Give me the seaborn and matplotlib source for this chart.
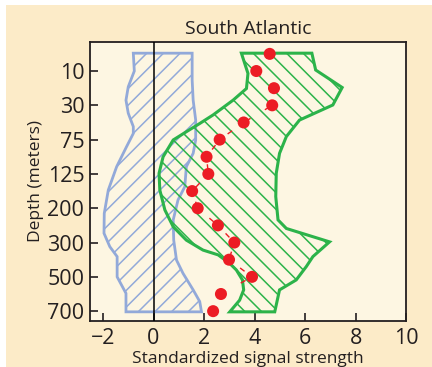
import matplotlib
matplotlib.use("Agg")
import matplotlib.pyplot as plt
from matplotlib.patches import Rectangle
import seaborn as sns
import pandas as pd

# depth levels (categorical rows, top to bottom)
depth_labels = ["10", "30", "75", "125", "200", "300", "500", "700"]

# red dots: row position (half steps) and signal strength
dot_row = [-0.5, 0, 0.5, 1, 1.5, 2, 2.5, 3, 3.5, 4, 4.5, 5, 5.5, 6, 6.5, 7]
dot_signal = [4.6, 4.07, 4.77, 4.70, 3.57, 2.62, 2.1, 2.17, 1.53, 1.75,
              2.55, 3.2, 2.99, 3.90, 2.67, 2.36]

# blue envelope (left and right edges, top to bottom)
blue_row = [-0.52, 0, 0.46, 0.85, 1.23, 1.62, 1.82, 2.21, 2.79, 3.47, 4.15,
            4.73, 5.12, 5.41, 6.0, 6.48, 7.02]
blue_left = [-0.80, -0.76, -1.0, -1.09, -1.0, -0.80, -0.80, -1.07, -1.46,
             -1.79, -1.95, -1.96, -1.73, -1.44, -1.44, -1.09, -1.09]
blue_row_r = [-0.52, 0.26, 0.85, 1.43, 2.01, 2.40, 2.79, 3.37, 3.76, 4.34,
              4.93, 5.51, 5.90, 6.38, 6.72, 7.02]
blue_right = [1.53, 1.53, 1.57, 1.67, 1.67, 1.57, 1.30, 1.24, 0.97, 0.78,
              0.80, 0.91, 1.17, 1.57, 1.83, 1.90]

# green envelope (right edge top to bottom, then left edge bottom to top)
green_row_r = [-0.52, -0.03, 0.48, 0.99, 1.43, 1.91, 2.40, 2.98, 3.66, 4.34,
               4.59, 4.98, 5.41, 5.70, 6.09, 6.38, 7.02]
green_right = [6.27, 6.42, 7.47, 7.10, 5.78, 5.26, 4.99, 4.86, 4.84, 4.93,
               5.26, 6.97, 6.31, 6.05, 5.65, 4.99, 4.80]
green_row_l = [7.02, 6.68, 6.38, 6.09, 5.80, 5.61, 5.36, 5.22, 4.93, 4.54,
               4.05, 3.47, 2.98, 2.50, 2.01, 1.77, 1.53, 1.28, 0.85, 0.51,
               0.07, -0.52]
green_left = [3.02, 3.41, 3.57, 3.52, 3.28, 3.02, 2.56, 1.96, 1.30, 0.78,
              0.45, 0.25, 0.22, 0.38, 0.78, 1.30, 1.83, 2.36, 3.15, 3.68,
              3.74, 3.48]

blue = "#92a9d9"
green = "#2cb34a"
red = "#ec1c24"
ink = "#231f20"

sns.set_style("ticks")
plt.rcParams["font.family"] = ["Open Sans", "DejaVu Sans"]
plt.rcParams["hatch.linewidth"] = 1.1

fig = plt.figure(figsize=(4.32, 3.67), dpi=100, facecolor="white")
fig.patches.append(Rectangle((6 / 432, 0), 1, 1 - 5 / 367, transform=fig.transFigure,
                             facecolor="#fcebc8", edgecolor="none", zorder=-10))
ax = fig.add_axes([0.208, 0.126, 0.732, 0.759])
ax.set_facecolor("#fdf6e2")

# blue polygon
bx = blue_left + blue_right[::-1]
by = blue_row + blue_row_r[::-1]
ax.fill(bx, by, facecolor="none", edgecolor=blue, hatch="//", linewidth=2.0, zorder=2)

# green polygon
gx = green_right + green_left
gy = green_row_r + green_row_l
ax.fill(gx, gy, facecolor="none", edgecolor=green, hatch="\\\\", linewidth=2.2, zorder=3)

ax.axvline(0, color="black", linewidth=1.1, zorder=4)

df = pd.DataFrame({"row": dot_row, "signal": dot_signal})
sns.lineplot(data=df, x="signal", y="row", sort=False, color=red, linewidth=1.0,
             linestyle=(0, (4, 12)), ax=ax, zorder=5)
sns.scatterplot(data=df, x="signal", y="row", color=red, s=75, edgecolor="none",
                ax=ax, zorder=6)

ax.set_xlim(-2.52, 10)
ax.set_ylim(7.28, -0.84)
ax.set_xticks([-2, 0, 2, 4, 6, 8, 10])
ax.set_xticklabels(["\u22122", "0", "2", "4", "6", "8", "10"])
ax.set_yticks(range(len(depth_labels)))
ax.set_yticklabels(depth_labels)
ax.tick_params(direction="in", length=6, width=1.2, labelsize=15.5, colors=ink)
ax.tick_params(axis="x", pad=5)
ax.tick_params(axis="y", pad=4)
for s in ax.spines.values():
    s.set_linewidth(1.3)
    s.set_color(ink)

ax.set_title("South Atlantic", fontsize=14, color=ink, pad=6)
ax.set_xlabel("Standardized signal strength", fontsize=12.5, color=ink, labelpad=1.5)
ax.set_ylabel("Depth (meters)", fontsize=12.5, color=ink, labelpad=2)

fig.savefig("out.png", dpi=100, facecolor=fig.get_facecolor())
